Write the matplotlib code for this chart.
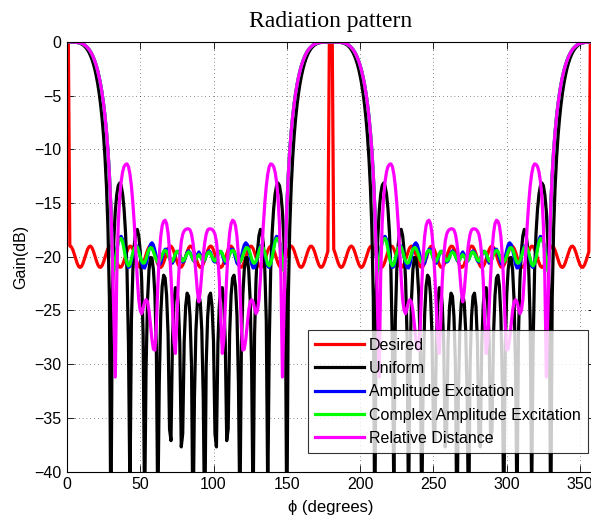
import numpy as np
import matplotlib
matplotlib.use("Agg")
import matplotlib.pyplot as plt

# Gain (dB) sampled every 1 deg over phi = 0..90; the pattern repeats
# mirror-wise about 90, 180 and 270 deg.
phi_quarter = list(range(0, 91))

uniform_q = [0, 0, 0, -0.002, -0.005, -0.012, -0.024, -0.045, -0.076, -0.12,
             -0.19, -0.27, -0.39, -0.53, -0.72, -0.95, -1.24, -1.59, -2.01, -2.52,
             -3.14, -3.87, -4.76, -5.83, -7.13, -8.75, -10.78, -13.47, -17.31, -23.96,
             -46.3, -23.56, -18.44, -15.76, -14.22, -13.38, -13.13, -13.38, -14.16, -15.56,
             -17.77, -21.28, -28.22, -42.4, -25.95, -21.22, -18.85, -17.68, -17.45, -18.03,
             -19.45, -22.14, -27.27, -44.1, -30.30, -24.04, -21.22, -20.07, -20.11, -21.17,
             -23.52, -28.36, -44.5, -31.72, -25.44, -22.73, -21.72, -21.98, -23.58, -27.18,
             -36.06, -37.13, -27.77, -24.29, -22.88, -22.93, -24.45, -28.05, -37.71, -36.48,
             -27.90, -24.61, -23.39, -23.68, -25.58, -30.10, -46.2, -33.11, -26.85, -24.27,
             -23.52]

reldist_q = [0, 0, 0, 0, -0.004, -0.01, -0.02, -0.035, -0.06, -0.095,
             -0.13, -0.19, -0.27, -0.38, -0.51, -0.67, -0.87, -1.12, -1.41, -1.77,
             -2.18, -2.68, -3.27, -3.96, -4.78, -5.77, -6.93, -8.37, -10.1, -12.4,
             -15.4, -19.9, -25.5, -31.2, -22.0, -17.0, -14.5, -13.0, -12.1, -11.6,
             -11.4, -11.35, -11.6, -12.3, -13.4, -15.0, -17.0, -19.5, -22.0, -24.0,
             -25.0, -25.3, -24.8, -24.2, -24.0, -24.2, -25.0, -26.3, -27.7, -28.6,
             -28.7, -26.5, -22.8, -19.9, -18.1, -17.1, -16.7, -16.6, -16.9, -17.8,
             -19.4, -21.8, -24.8, -27.8, -29.0, -26.0, -22.3, -20.0, -18.6, -17.9,
             -17.6, -17.45, -17.4, -17.4, -17.5, -17.9, -18.7, -19.9, -21.5, -23.2,
             -24.2]

amplitude_q = [0, 0, 0, 0, -0.004, -0.01, -0.02, -0.035, -0.06, -0.095,
               -0.13, -0.19, -0.27, -0.38, -0.51, -0.67, -0.87, -1.12, -1.41, -1.77,
               -2.18, -2.68, -3.27, -3.96, -4.78, -5.77, -6.93, -8.37, -10.1, -12.4,
               -15.4, -19.9, -21.2, -20.4, -19.3, -18.6, -18.2, -18.1, -18.4, -19.1,
               -19.9, -20.6, -21.0, -20.9, -20.4, -19.8, -19.3, -19.0, -19.0, -19.4,
               -20.0, -20.6, -21.0, -21.05, -20.7, -20.0, -19.3, -18.85, -18.7, -18.9,
               -19.4, -20.0, -20.5, -20.75, -20.6, -20.1, -19.6, -19.3, -19.3, -19.6,
               -20.1, -20.5, -20.6, -20.3, -19.8, -19.5, -19.5, -19.8, -20.2, -20.5,
               -20.4, -20.0, -19.6, -19.45, -19.6, -19.9, -20.3, -20.45, -20.2, -19.8,
               -19.55]

complex_q = [0, 0, 0, 0, -0.004, -0.01, -0.02, -0.035, -0.06, -0.095,
             -0.13, -0.19, -0.27, -0.38, -0.51, -0.67, -0.87, -1.12, -1.41, -1.77,
             -2.18, -2.68, -3.27, -3.96, -4.78, -5.77, -6.93, -8.37, -10.1, -12.4,
             -15.4, -19.9, -21.3, -20.4, -19.4, -18.7, -18.35, -18.3, -18.6, -19.3,
             -20.1, -20.6, -20.85, -20.7, -20.2, -19.6, -19.2, -19.0, -19.1, -19.5,
             -20.0, -20.4, -20.6, -20.55, -20.2, -19.7, -19.3, -19.15, -19.2, -19.5,
             -19.9, -20.3, -20.5, -20.5, -20.2, -19.8, -19.5, -19.4, -19.5, -19.8,
             -20.2, -20.45, -20.4, -20.1, -19.7, -19.5, -19.55, -19.85, -20.2, -20.4,
             -20.3, -20.0, -19.7, -19.55, -19.65, -19.95, -20.25, -20.4, -20.25, -19.95,
             -19.8]

# Desired pattern: 0 dB beam directions, -20 dB +/- 1 dB ripple elsewhere (1 deg step)
desired_phi = list(range(0, 361))
desired_gain = [
    0, 0, -19.00, -19.07, -19.34, -19.74, -20.19, -20.61, -20.90, -21.00,
    -20.90, -20.61, -20.19, -19.74, -19.34, -19.08, -19.00, -19.14, -19.45, -19.87,
    -20.33, -20.71, -20.95, -20.99, -20.83, -20.49, -20.06, -19.61, -19.24, -19.03,
    -19.02, -19.21, -19.57, -20.01, -20.45, -20.80, -20.98, -20.96, -20.74, -20.37,
    -19.92, -19.49, -19.16, -19.01, -19.06, -19.31, -19.69, -20.15, -20.57, -20.88,
    -21.00, -20.92, -20.64, -20.24, -19.79, -19.38, -19.09, -19.00, -19.11, -19.41,
    -19.83, -20.28, -20.68, -20.93, -21.00, -20.85, -20.53, -20.10, -19.65, -19.27,
    -19.04, -19.01, -19.19, -19.53, -19.96, -20.41, -20.77, -20.97, -20.97, -20.77,
    -20.41, -19.97, -19.53, -19.19, -19.01, -19.04, -19.27, -19.65, -20.10, -20.53,
    -20.85, -21.00, -20.93, -20.68, -20.29, -19.83, -19.41, -19.12, -19.00, -19.09,
    -19.37, -19.78, -20.24, -20.64, -20.91, -21.00, -20.88, -20.57, -20.15, -19.70,
    -19.31, -19.06, -19.01, -19.16, -19.48, -19.92, -20.37, -20.74, -20.96, -20.98,
    -20.80, -20.46, -20.02, -19.57, -19.22, -19.02, -19.03, -19.24, -19.60, -20.05,
    -20.49, -20.83, -20.99, -20.95, -20.71, -20.33, -19.88, -19.45, -19.14, -19.00,
    -19.07, -19.34, -19.73, -20.19, -20.60, -20.89, -21.00, -20.90, -20.61, -20.20,
    -19.74, -19.34, -19.08, -19.00, -19.13, -19.44, -19.87, -20.32, -20.71, -20.95,
    -20.99, -20.83, -20.50, -20.06, -19.62, -19.25, -19.03, -19.02, -19.21, -19.56,
    -20.01, -20.45, -20.80, -20.98, -20.96, -20.75, -20.38, -19.93, -19.49, 0,
    0, 0, -19.30, -19.69, -20.14, -20.57, -20.87, -21.00, -20.92, -20.65,
    -20.24, -19.79, -19.38, -19.10, -19.00, -19.11, -19.41, -19.82, -20.28, -20.67,
    -20.93, -21.00, -20.86, -20.54, -20.11, -19.66, -19.28, -19.05, -19.01, -19.18,
    -19.52, -19.96, -20.41, -20.77, -20.97, -20.98, -20.78, -20.42, -19.97, -19.53,
    -19.19, -19.01, -19.04, -19.27, -19.65, -20.10, -20.53, -20.85, -21.00, -20.94,
    -20.68, -20.29, -19.84, -19.42, -19.12, -19.00, -19.09, -19.37, -19.78, -20.23,
    -20.64, -20.91, -21.00, -20.88, -20.58, -20.16, -19.70, -19.31, -19.06, -19.01,
    -19.16, -19.48, -19.91, -20.36, -20.74, -20.96, -20.98, -20.81, -20.46, -20.02,
    -19.57, -19.22, -19.02, -19.03, -19.24, -19.60, -20.05, -20.49, -20.82, -20.99,
    -20.95, -20.72, -20.33, -19.88, -19.46, -19.14, -19.00, -19.07, -19.33, -19.73,
    -20.19, -20.60, -20.89, -21.00, -20.90, -20.62, -20.20, -19.75, -19.35, -19.08,
    -19.00, -19.13, -19.44, -19.86, -20.32, -20.70, -20.95, -20.99, -20.83, -20.50,
    -20.07, -19.62, -19.25, -19.03, -19.02, -19.21, -19.56, -20.00, -20.44, -20.79,
    -20.98, -20.97, -20.75, -20.38, -19.93, -19.50, -19.17, -19.01, -19.06, -19.30,
    -19.68, -20.14, -20.56, -20.87, -21.00, -20.92, -20.65, -20.25, -19.80, -19.38,
    -19.10, -19.00, -19.11, -19.40, -19.82, -20.27, -20.67, -20.93, -21.00, -20.86,
    -20.54, -20.11, -19.66, -19.28, -19.05, -19.01, -19.18, -19.52, -19.95, -20.40,
    -20.76, -20.97, -20.98, -20.78, -20.42, -19.98, -19.54, 0, 0, 0,
    0]


def full_sweep(q):
    """Unfold a 0..90 deg quarter into the full 0..360 deg sweep."""
    q = np.asarray(q, dtype=float)
    return np.concatenate([q, q[::-1][1:], q[1:], q[::-1][1:]])


pq = np.asarray(phi_quarter, dtype=float)
phi = np.concatenate([pq, 180 - pq[::-1][1:], 180 + pq[1:], 360 - pq[::-1][1:]])

plt.rcParams['font.family'] = ['Liberation Sans', 'DejaVu Sans']
fig = plt.figure(figsize=(5.91, 5.20), dpi=100)
# the axes run slightly past the right edge of the canvas
ax = fig.add_axes([66.9 / 591, 48.5 / 520, 527.8 / 591, 429.5 / 520])

lw = 2.3
ax.plot(desired_phi, desired_gain, color=(1, 0, 0), lw=lw, label='Desired')
ax.plot(phi, full_sweep(uniform_q), color='k', lw=lw, label='Uniform')
ax.plot(phi, full_sweep(amplitude_q), color=(0, 0, 1), lw=lw, label='Amplitude Excitation')
ax.plot(phi, full_sweep(complex_q), color=(0, 1, 0), lw=lw, label='Complex Amplitude Excitation')
ax.plot(phi, full_sweep(reldist_q), color=(1, 0, 1), lw=lw, label='Relative Distance')

ax.set_xlim(0, 360)
ax.set_ylim(-40, 0)
ax.set_xticks(range(0, 361, 50))
ax.set_yticks(range(-40, 1, 5))
ax.grid(True, color='k', linestyle=(0, (0.6, 4.0)), linewidth=0.6)
ax.tick_params(direction='in', length=5, width=0.6, top=True, right=True,
               labelsize=11.5, pad=4)
for s in ax.spines.values():
    s.set_linewidth(0.8)

ax.set_title('Radiation pattern', fontfamily='Liberation Serif', fontsize=17, pad=11)
ax.set_xlabel('ϕ (degrees)', fontsize=12, labelpad=6)
ax.set_ylabel('Gain(dB)', fontsize=11.5, labelpad=4)

leg = ax.legend(loc='lower right', bbox_to_anchor=(0.987, 0.043), borderaxespad=0,
                fontsize=11.5, frameon=True, fancybox=False, edgecolor='k',
                handlelength=3.06, handletextpad=0.31, labelspacing=0.52,
                borderpad=0.45)
leg.get_frame().set_linewidth(0.8)

fig.savefig('out.png', dpi=100)
